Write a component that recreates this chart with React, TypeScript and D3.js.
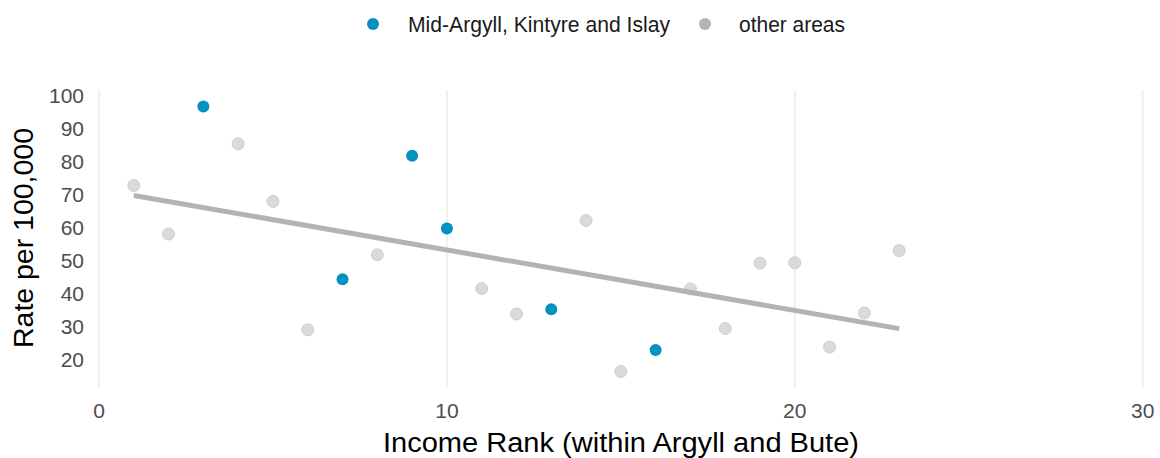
import React from 'react'
import * as d3 from 'd3'

// income rank within Argyll and Bute, rate per 100,000
const blueRanks = [3, 7, 9, 10, 13, 16]
const blueRates = [96.5, 44.2, 81.6, 59.6, 35.1, 22.8]
const greyRanks = [1, 2, 4, 5, 6, 8, 11, 12, 14, 15, 17, 18, 19, 20, 21, 22, 23]
const greyRates = [72.6, 57.9, 85.2, 67.8, 28.9, 51.6, 41.4, 33.7, 62, 16.3, 41.3, 29.3, 49.1, 49.2, 23.7, 34, 52.9]
const xTicks = [0, 10, 20, 30]
const yTicks = [20, 30, 40, 50, 60, 70, 80, 90, 100]
const legendLabels = ['Mid-Argyll, Kintyre and Islay', 'other areas']

const BLUE = '#0391c0'
const GREY = '#b3b3b3'
const FONT = '"Liberation Sans", Arial, sans-serif'

const App = () => {
  const width = 1160
  const height = 458

  const x = d3.scaleLinear().domain([0, 30]).range([99, 1142.7])
  const y = d3.scaleLinear().domain([11.3, 101.5]).range([388, 90])

  // least squares fit over all areas
  const allX = [...blueRanks, ...greyRanks]
  const allY = [...blueRates, ...greyRates]
  const mx = d3.mean(allX) as number
  const my = d3.mean(allY) as number
  const sxy = d3.sum(allX.map((v, i) => (v - mx) * (allY[i] - my)))
  const sxx = d3.sum(allX.map((v) => (v - mx) * (v - mx)))
  const slope = sxy / sxx
  const icept = my - slope * mx
  const xMin = d3.min(allX) as number
  const xMax = d3.max(allX) as number
  const fit: [number, number][] = [xMin, xMax].map((v) => [v, icept + slope * v])
  const line = d3
    .line<[number, number]>()
    .x((d) => x(d[0]))
    .y((d) => y(d[1]))

  return (
    <svg
      width={width}
      height={height}
      style={{ position: 'absolute', left: 0, top: 0, background: '#fff' }}
    >
      {/* legend */}
      <g fontFamily={FONT} fontSize={21.5} fill="#1a1a1a">
        <circle cx={373} cy={24} r={6} fill={BLUE} />
        <text x={408} y={31.5} textLength={262} lengthAdjust="spacingAndGlyphs">
          {legendLabels[0]}
        </text>
        <circle cx={705} cy={24} r={6} fill={GREY} />
        <text x={739} y={31.5} textLength={106} lengthAdjust="spacingAndGlyphs">
          {legendLabels[1]}
        </text>
      </g>

      {/* grid */}
      {xTicks.map((t) => (
        <line key={t} x1={x(t)} x2={x(t)} y1={90} y2={388} stroke="#ebebeb" strokeWidth={1.5} />
      ))}

      {/* axes text */}
      <g fontFamily={FONT} fontSize={21} fill="#4d4d4d">
        {yTicks.map((t) => (
          <text key={t} x={84} y={y(t)} dy="0.36em" textAnchor="end">
            {t}
          </text>
        ))}
        {xTicks.map((t) => (
          <text key={t} x={x(t)} y={418} textAnchor="middle">
            {t}
          </text>
        ))}
      </g>
      <text
        x={621}
        y={452}
        textAnchor="middle"
        fontFamily={FONT}
        fontSize={27}
        fill="#000"
        textLength={476}
        lengthAdjust="spacingAndGlyphs"
      >
        Income Rank (within Argyll and Bute)
      </text>
      <text
        transform={`translate(33, 238) rotate(-90)`}
        textAnchor="middle"
        fontFamily={FONT}
        fontSize={27.5}
        fill="#000"
        textLength={220}
        lengthAdjust="spacingAndGlyphs"
      >
        Rate per 100,000
      </text>

      {/* points */}
      {greyRanks.map((r, i) => (
        <circle
          key={'g' + i}
          cx={x(r)}
          cy={y(greyRates[i])}
          r={6}
          fill="#dadada"
          stroke="#cfcfcf"
          strokeWidth={1}
        />
      ))}
      <path d={line(fit) || ''} fill="none" stroke={GREY} strokeWidth={5} />
      {blueRanks.map((r, i) => (
        <circle key={'b' + i} cx={x(r)} cy={y(blueRates[i])} r={6} fill={BLUE} />
      ))}
    </svg>
  )
}

export default App
